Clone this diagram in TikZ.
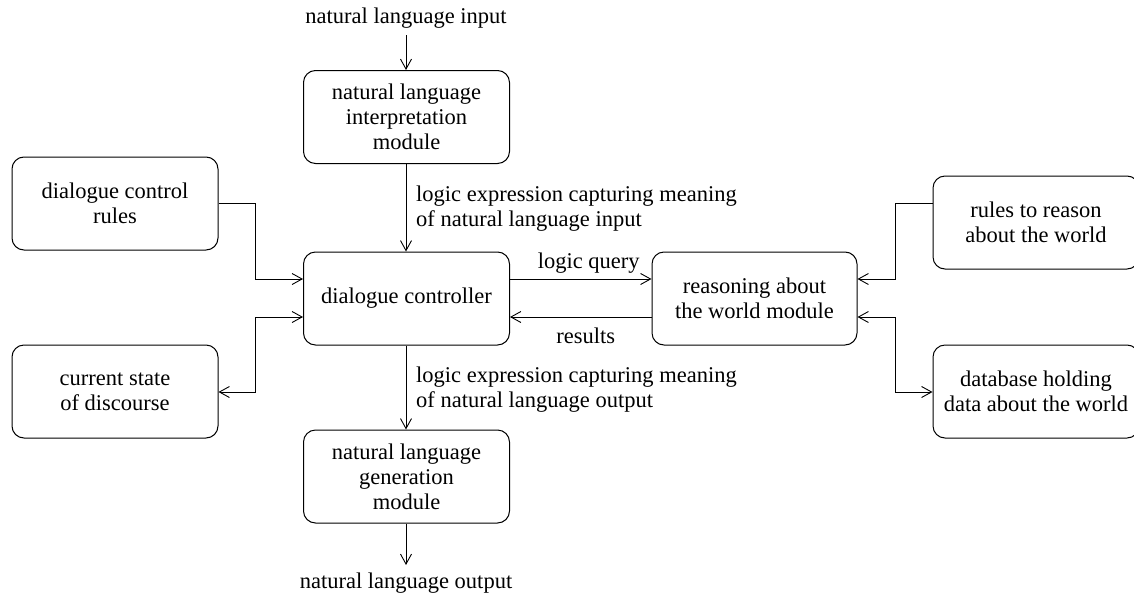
\documentclass[tikz,border=0pt]{standalone}
\usepackage{fontspec}
\setmainfont{Liberation Serif}
\usetikzlibrary{arrows.meta}
\begin{document}
\begin{tikzpicture}[x=1pt,y=-1pt,
  box/.style={draw, line width=1pt, rounded corners=12pt, align=center,
    minimum width=206pt, minimum height=93pt, inner sep=2pt,
    font=\fontsize{22.5}{25}\selectfont},
  lbl/.style={font=\fontsize{22.5}{25}\selectfont, inner sep=0pt},
  conn/.style={line width=1pt, -{Straight Barb[length=10pt,width=11pt,line width=0.9pt]}},
  conn2/.style={line width=1pt, {Straight Barb[length=10pt,width=11pt,line width=0.9pt]}-{Straight Barb[length=10pt,width=11pt,line width=0.9pt]}}]
\useasboundingbox (0,0) rectangle (1134,597);
\fill[white] (0,0) rectangle (1134,597);

\node[lbl] (in) at (406,18) {natural language input};
\node[box] (nli) at (406.5,117) {natural language\\interpretation\\module};
\node[box] (dc) at (406.5,298.5) {dialogue controller};
\node[box] (gen) at (406.5,476.5) {natural language\\generation\\module};
\node[lbl] (out) at (406,583) {natural language output};

\node[box] (dcr) at (115,203.5) {dialogue control\\rules};
\node[box] (cs) at (115,391.5) {current state\\of discourse};
\node[box, minimum width=205pt] (rw) at (754.5,298.5) {reasoning about\\the world module};
\node[box] (rr) at (1036,222.5) {rules to reason\\about the world};
\node[box] (db) at (1036,391.5) {database holding\\data about the world};

\coordinate (inb) at (406,35);
\coordinate (outt) at (406,565);
\draw[conn] (inb) -- (nli.north -| inb);
\draw[conn] (nli.south -| inb) -- (dc.north -| inb);
\draw[conn] (dc.south -| inb) -- (gen.north -| inb);
\draw[conn] (gen.south -| inb) -- (outt);

\node[lbl, anchor=west, align=left] (l1) at (416,209) {logic expression capturing meaning\\of natural language input};
\node[lbl, anchor=west, align=left] (l2) at (416,390) {logic expression capturing meaning\\of natural language output};

% left side
\draw[conn] (dcr.east |- 0,203) -- (255,203) -- (255,279) -- (dc.west |- 0,279);
\draw[conn2] (dc.west |- 0,317) -- (255,317) -- (255,392) -- (cs.east |- 0,392);

% middle
\draw[conn] (dc.east |- 0,279) -- node[lbl, above=5pt, xshift=8pt] (lq) {logic query} (rw.west |- 0,279);
\draw[conn] (rw.west |- 0,317) -- node[lbl, below=10pt, xshift=5pt] (res) {results} (dc.east |- 0,317);

% right side
\draw[conn] (rr.west |- 0,203) -- (895,203) -- (895,279) -- (rw.east |- 0,279);
\draw[conn2] (rw.east |- 0,317) -- (895,317) -- (895,392) -- (db.west |- 0,392);
\end{tikzpicture}
\end{document}
